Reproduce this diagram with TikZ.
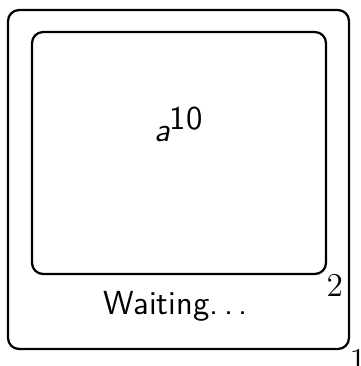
\documentclass[tikz,border=0pt]{standalone}
\begin{document}
\begin{tikzpicture}[x=0.36pt,y=-0.36pt,font=\large,
  frame/.style={draw,thick,rounded corners=4pt},
  cornerlabel/.style={anchor=north west,inner sep=0pt}]
\useasboundingbox (0,0) rectangle (361,366);
\draw[frame] (8,10) rectangle (349,349);
\draw[frame] (32,32) rectangle (326,274);
\coordinate (outerSE) at (349,349);
\coordinate (innerSE) at (326,274);
\node[cornerlabel] (one) at (outerSE) {1};
\node[cornerlabel] (two) at (innerSE) {2};
\node (content) at (179,124) {$\textsf{\itshape a}^{\textsf{10}}$};
\node (status) at (176,306) {\textsf{Waiting.\kern.17em.\kern.17em.}};
\end{tikzpicture}
\end{document}
